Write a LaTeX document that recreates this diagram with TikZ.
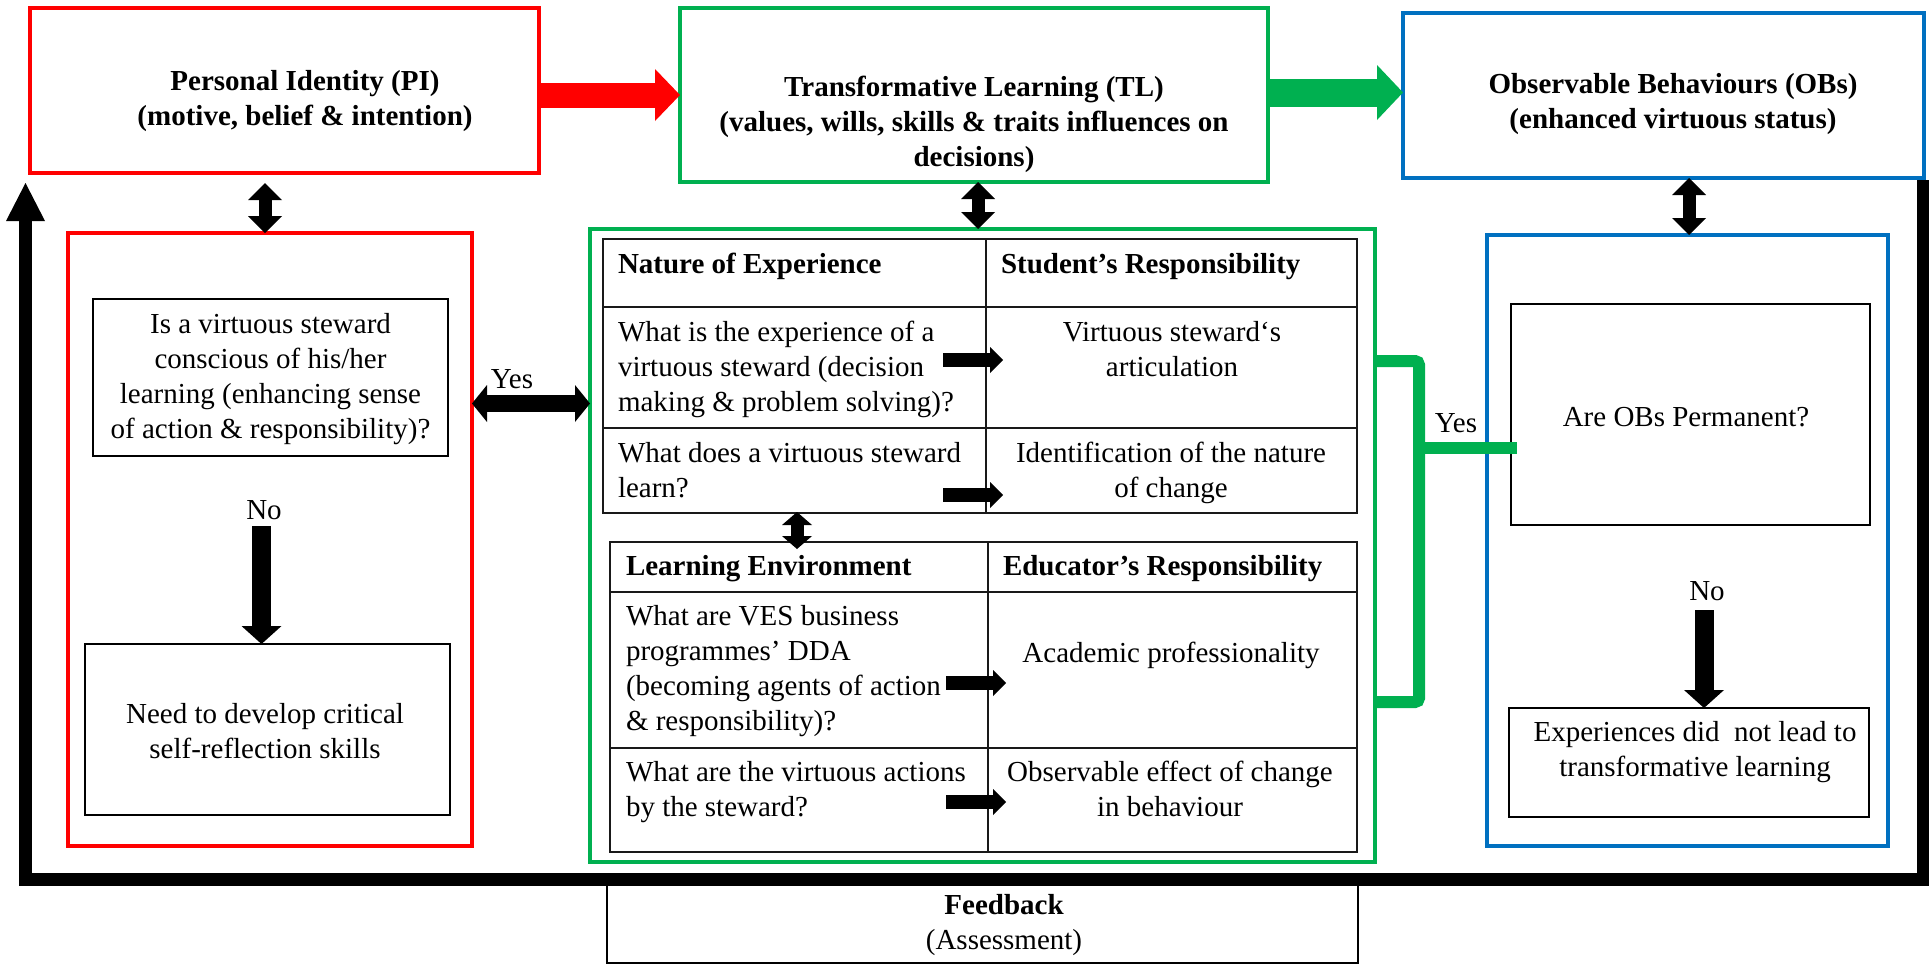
\documentclass[tikz,border=0pt]{standalone}
\usepackage{fontspec}
\setmainfont{Liberation Serif}
\usetikzlibrary{arrows.meta}
\definecolor{pired}{HTML}{FF0000}
\definecolor{tlgreen}{HTML}{00B050}
\definecolor{obblue}{HTML}{0070C0}
\newcommand{\dgfont}{\fontsize{14.5pt}{17.5pt}\selectfont}

\begin{document}
\begin{tikzpicture}[x=0.5pt,y=-0.5pt,
  every node/.style={font=\dgfont, inner sep=0pt, outer sep=0pt},
  framebox/.style={draw=#1, line width=2.2pt},
  plainbox/.style={draw=black, line width=0.9pt},
  cell/.style={draw=black!90, line width=0.9pt, anchor=north west},
  heading/.style={font=\dgfont\bfseries, align=center},
  body/.style={align=center},
  celltext/.style={align=left, anchor=north west},
  cellhead/.style={font=\dgfont\bfseries, anchor=north west},
  cellmid/.style={align=center, anchor=north},
  redflow/.style={draw=pired, line width=12.5pt, -{Triangle[length=12.5pt,width=26pt,line width=0pt]}},
  greenflow/.style={draw=tlgreen, line width=14pt, -{Triangle[length=13pt,width=27.5pt,line width=0pt]}},
  linkv/.style={line width=6.5pt, {Triangle[length=8.5pt,width=17pt,line width=0pt]}-{Triangle[length=8.5pt,width=17pt,line width=0pt]}},
  linkyes/.style={line width=8.5pt, {Triangle[length=7.5pt,width=18.5pt,line width=0pt]}-{Triangle[length=7.5pt,width=18.5pt,line width=0pt]}},
  linksmall/.style={line width=6.5pt, {Triangle[length=6.5pt,width=15pt,line width=0pt]}-{Triangle[length=6.5pt,width=15pt,line width=0pt]}},
  nodown/.style={line width=9.5pt, -{Triangle[length=9pt,width=20pt,line width=0pt]}},
  cellarrow/.style={line width=7pt, -{Triangle[length=6.5pt,width=13pt,line width=0pt]}},
  feedback/.style={line width=6.25pt, line join=miter, -{Triangle[length=19pt,width=19.5pt,line width=0pt]}},
  bracket/.style={draw=tlgreen, line width=6pt, rounded corners=2pt}
]
\useasboundingbox (0,0) rectangle (1932,964);

% top row of stages
\node[framebox=pired, minimum width=254.5pt, minimum height=82.5pt] (PI) at (284.5,90.5) {};
\node[framebox=tlgreen, line width=2pt, minimum width=294pt, minimum height=87pt] (TL) at (974,95) {};
\node[framebox=obblue, minimum width=260.5pt, minimum height=82.5pt] (OB) at (1663.5,95.5) {};
\node[heading] (PItext) at (305,101) {Personal Identity (PI)\\(motive, belief \& intention)};
\node[heading] (TLtext) at (974,124) {Transformative Learning (TL)\\(values, wills, skills \& traits influences on\\decisions)};
\node[heading] (OBtext) at (1673,104.5) {Observable Behaviours (OBs)\\(enhanced virtuous status)};

% lower frames
\node[framebox=pired, minimum width=202pt, minimum height=306.5pt] (redsub) at (270,539.5) {};
\node[framebox=tlgreen, line width=2pt, minimum width=392.5pt, minimum height=316.5pt] (greensub) at (982.5,545.5) {};
\node[framebox=obblue, minimum width=200.5pt, minimum height=305.5pt] (bluesub) at (1687.5,540.5) {};

% left column: self-reflection
\node[plainbox, minimum width=177.5pt, minimum height=78.5pt] (qbox) at (270.5,377.5) {};
\node[body] (qtext) at (270.5,379) {Is a virtuous steward\\conscious of his/her\\learning (enhancing sense\\of action \& responsibility)?};
\node[plainbox, minimum width=182.5pt, minimum height=85.5pt] (needbox) at (267.5,729.5) {};
\node[body] (needtext) at (265,731) {Need to develop critical\\self-reflection skills};
\node (noRed) at (264,510) {No};

% right column: permanence check
\node[plainbox, minimum width=179.5pt, minimum height=110.5pt] (obqbox) at (1690.5,414.5) {};
\node (obqtext) at (1686,417) {Are OBs Permanent?};
\node[plainbox, minimum width=180pt, minimum height=54.5pt] (expbox) at (1689,762.5) {};
\node[body] (exptext) at (1695,752) {Experiences did~ not lead to\\transformative learning};
\node (noBlue) at (1707,591) {No};

% experience table
\node[cell, minimum width=191.5pt, minimum height=34pt] (c11) at (603,239) {};
\node[cell, minimum width=185.5pt, minimum height=34pt] (c12) at (986,239) {};
\node[cell, minimum width=191.5pt, minimum height=60.5pt] (c21) at (603,307) {};
\node[cell, minimum width=185.5pt, minimum height=60.5pt] (c22) at (986,307) {};
\node[cell, minimum width=191.5pt, minimum height=42.5pt] (c31) at (603,428) {};
\node[cell, minimum width=185.5pt, minimum height=42.5pt] (c32) at (986,428) {};
\node[cellhead] (c11t) at (618,253) {Nature of Experience};
\node[cellhead] (c12t) at (1001,253) {Student's Responsibility};
\node[celltext] (c21t) at (618,321) {What is the experience of a\\virtuous steward (decision\\making \& problem solving)?};
\node[cellmid] (c22t) at (1172,321) {Virtuous steward`s\\articulation};
\node[celltext] (c31t) at (618,442) {What does a virtuous steward\\learn?};
\node[cellmid] (c32t) at (1171,442) {Identification of the nature\\of change};

% environment table
\node[cell, minimum width=189pt, minimum height=25pt] (d11) at (610,542) {};
\node[cell, minimum width=184.5pt, minimum height=25pt] (d12) at (988,542) {};
\node[cell, minimum width=189pt, minimum height=78pt] (d21) at (610,592) {};
\node[cell, minimum width=184.5pt, minimum height=78pt] (d22) at (988,592) {};
\node[cell, minimum width=189pt, minimum height=52pt] (d31) at (610,748) {};
\node[cell, minimum width=184.5pt, minimum height=52pt] (d32) at (988,748) {};
\node[cellhead] (d11t) at (626,555) {Learning Environment};
\node[cellhead] (d12t) at (1003,555) {Educator's Responsibility};
\node[celltext] (d21t) at (626,605) {What are VES business\\programmes' DDA\\(becoming agents of action\\\& responsibility)?};
\node (d22t) at (1171,655) {Academic professionality};
\node[celltext] (d31t) at (626,761) {What are the virtuous actions\\by the steward?};
\node[cellmid] (d32t) at (1170,761) {Observable effect of change\\in behaviour};

% feedback box
\node[draw=black, line width=0.6pt, minimum width=375.5pt, minimum height=42pt] (fbbox) at (982.5,921) {};
\node[align=center] (fbtext) at (1004,925) {\textbf{Feedback}\\(Assessment)};

% flow between stages
\coordinate (greenRow) at (0,92.5);
\draw[redflow] (PI.east |- TL.west) -- (TL.west);
\draw[greenflow] (TL.east |- greenRow) -- (OB.west |- greenRow);

% links from stages to their frames
\coordinate (piLinkTop) at (265,183);
\coordinate (tlLink) at (978,0);
\coordinate (obLink) at (1689,0);
\draw[linkv] (piLinkTop) -- (piLinkTop |- redsub.north);
\draw[linkv] (tlLink |- TL.south) -- (tlLink |- greensub.north);
\draw[linkv] (obLink |- OB.south) -- (obLink |- bluesub.north);

% Yes link between reflection and the tables
\coordinate (yesRow) at (0,403.5);
\draw[linkyes] (redsub.east |- yesRow) -- (greensub.west |- yesRow);
\node (yesLeft) at (512,379) {Yes};

% No arrows
\coordinate (noRedStart) at (261.5,526);
\coordinate (noBlueStart) at (1704,610);
\draw[nodown] (noRedStart) -- (noRedStart |- needbox.north);
\draw[nodown] (noBlueStart) -- (noBlueStart |- expbox.north);

% link between the two tables
\coordinate (tabLinkTop) at (797,512);
\coordinate (tabLinkBot) at (797,549);
\draw[linksmall] (tabLinkTop) -- (tabLinkBot);

% arrows from questions to responsibilities
\coordinate (a1s) at (943,360);  \coordinate (a1e) at (1003,360);
\coordinate (a2s) at (943,495);  \coordinate (a2e) at (1003,495);
\coordinate (a3s) at (946,683);  \coordinate (a3e) at (1006,683);
\coordinate (a4s) at (946,802);  \coordinate (a4e) at (1006,802);
\draw[cellarrow] (a1s) -- (a1e);
\draw[cellarrow] (a2s) -- (a2e);
\draw[cellarrow] (a3s) -- (a3e);
\draw[cellarrow] (a4s) -- (a4e);

% bracket joining the tables to the permanence check
\coordinate (brTopIn) at (1373,361);
\coordinate (brTop) at (1419,361);
\coordinate (brBot) at (1419,702);
\coordinate (brBotIn) at (1373,702);
\coordinate (brMid) at (1419,448);
\coordinate (brStubEnd) at (1517,448);
\draw[bracket] (brTopIn) -- (brTop) -- (brBot) -- (brBotIn);
\draw[bracket] (brMid) -- (brStubEnd);
\node (yesRight) at (1456,423) {Yes};

% feedback loop
\coordinate (fbTop) at (1923,180);
\coordinate (fbCorner) at (25.5,879.5);
\coordinate (fbEnd) at (25.5,183);
\draw[feedback] (fbTop) |- (fbCorner) -- (fbEnd);
\end{tikzpicture}
\end{document}
